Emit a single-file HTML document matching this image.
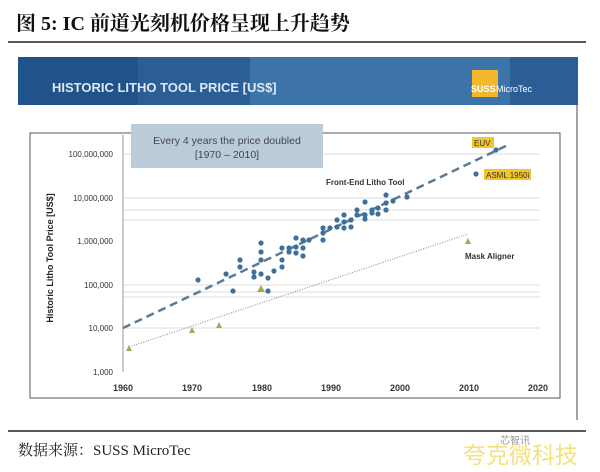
<!DOCTYPE html>
<html><head><meta charset="utf-8"><style>
body{margin:0;width:600px;height:467px;background:#fff;overflow:hidden;font-family:"Liberation Sans","Noto Sans CJK SC",sans-serif}
</style></head><body>
<svg width="600" height="467" xmlns="http://www.w3.org/2000/svg">
<text x="16" y="30" font-family="Liberation Serif,'Noto Serif CJK SC',serif" font-weight="bold" font-size="20" fill="#111">图 5: IC 前道光刻机价格呈现上升趋势</text>
<line x1="8" y1="42" x2="586" y2="42" stroke="#222" stroke-width="1.5"/>
<rect x="18" y="57" width="560" height="48" fill="#2a5e95"/>
<rect x="250" y="57" width="260" height="48" fill="#4a82b8" opacity="0.6"/>
<rect x="18" y="57" width="120" height="48" fill="#1c4f86" opacity="0.7"/>
<text x="52" y="92" font-size="13" font-weight="bold" fill="#dfe8f2">HISTORIC LITHO TOOL PRICE [US$]</text>
<rect x="472" y="70" width="26" height="27" fill="#f2b72b"/>
<text x="471" y="92" font-size="9" font-weight="bold" fill="#fff">SUSS</text><text x="496" y="92" font-size="9" fill="#fff">MicroTec</text>
<line x1="577" y1="105" x2="577" y2="420" stroke="#444" stroke-width="1"/>
<rect x="30" y="133" width="530" height="265" fill="#fff" stroke="#555" stroke-width="1"/>
<g stroke="#ddd" stroke-width="1">
<line x1="123" y1="154" x2="540" y2="154"/><line x1="123" y1="198" x2="540" y2="198"/><line x1="123" y1="210" x2="540" y2="210"/><line x1="123" y1="220" x2="540" y2="220"/>
<line x1="123" y1="285" x2="540" y2="285"/><line x1="123" y1="292" x2="540" y2="292"/><line x1="123" y1="297" x2="540" y2="297"/><line x1="123" y1="328" x2="540" y2="328"/></g>
<line x1="123" y1="135" x2="123" y2="372" stroke="#999"/>
<g font-size="8" fill="#333" text-anchor="end">
<text x="113" y="157">100,000,000</text><text x="113" y="201">10,000,000</text><text x="113" y="244">1,000,000</text><text x="113" y="288">100,000</text><text x="113" y="331">10,000</text><text x="113" y="375">1,000</text></g>
<g font-size="9" font-weight="bold" fill="#333" text-anchor="middle">
<text x="123" y="391">1960</text><text x="192" y="391">1970</text><text x="262" y="391">1980</text><text x="331" y="391">1990</text><text x="400" y="391">2000</text><text x="469" y="391">2010</text><text x="538" y="391">2020</text></g>
<text transform="translate(53,258) rotate(-90)" font-size="9" font-weight="bold" fill="#222" text-anchor="middle">Historic Litho Tool Price [US$]</text>
<rect x="131" y="124" width="192" height="44" fill="#bccbda"/>
<text x="227" y="144" font-size="10.5" fill="#445" text-anchor="middle">Every 4 years the price doubled</text>
<text x="227" y="158" font-size="10.5" fill="#445" text-anchor="middle">[1970 – 2010]</text>
<line x1="123" y1="328" x2="508" y2="145" stroke="#5a7a96" stroke-width="2.5" stroke-dasharray="8,5"/>
<line x1="129" y1="347" x2="468" y2="234" stroke="#888" stroke-width="1" stroke-dasharray="1,1.5"/>
<text x="326" y="185" font-size="8" font-weight="bold" fill="#333">Front-End Litho Tool</text>
<text x="465" y="259" font-size="8" font-weight="bold" fill="#333">Mask Aligner</text>
<rect x="472" y="137" width="22" height="11" fill="#f3c52c"/><text x="474" y="146" font-size="8" fill="#333">EUV</text>
<rect x="484" y="169" width="47" height="11" fill="#f3c52c"/><text x="486" y="178" font-size="8" fill="#333">ASML 1950i</text>
<g fill="#3f6f9c">
<circle cx="198" cy="280" r="2.6"/><circle cx="226" cy="274" r="2.6"/><circle cx="233" cy="291" r="2.6"/><circle cx="240" cy="260" r="2.6"/><circle cx="240" cy="267" r="2.6"/><circle cx="254" cy="272" r="2.6"/><circle cx="254" cy="277" r="2.6"/><circle cx="261" cy="243" r="2.6"/><circle cx="261" cy="252" r="2.6"/><circle cx="261" cy="260" r="2.6"/><circle cx="261" cy="274" r="2.6"/><circle cx="268" cy="278" r="2.6"/><circle cx="268" cy="291" r="2.6"/><circle cx="274" cy="271" r="2.6"/><circle cx="282" cy="260" r="2.6"/><circle cx="282" cy="267" r="2.6"/><circle cx="282" cy="248" r="2.6"/><circle cx="289" cy="248" r="2.6"/><circle cx="289" cy="252" r="2.6"/><circle cx="296" cy="238" r="2.6"/><circle cx="296" cy="247" r="2.6"/><circle cx="296" cy="253" r="2.6"/><circle cx="303" cy="240" r="2.6"/><circle cx="303" cy="248" r="2.6"/><circle cx="303" cy="256" r="2.6"/><circle cx="309" cy="240" r="2.6"/><circle cx="323" cy="228" r="2.6"/><circle cx="323" cy="233" r="2.6"/><circle cx="323" cy="240" r="2.6"/><circle cx="330" cy="228" r="2.6"/><circle cx="337" cy="220" r="2.6"/><circle cx="337" cy="227" r="2.6"/><circle cx="344" cy="215" r="2.6"/><circle cx="344" cy="222" r="2.6"/><circle cx="344" cy="228" r="2.6"/><circle cx="351" cy="220" r="2.6"/><circle cx="351" cy="227" r="2.6"/><circle cx="357" cy="210" r="2.6"/><circle cx="357" cy="215" r="2.6"/><circle cx="365" cy="202" r="2.6"/><circle cx="365" cy="215" r="2.6"/><circle cx="365" cy="219" r="2.6"/><circle cx="372" cy="210" r="2.6"/><circle cx="372" cy="213" r="2.6"/><circle cx="378" cy="208" r="2.6"/><circle cx="378" cy="214" r="2.6"/><circle cx="386" cy="195" r="2.6"/><circle cx="386" cy="203" r="2.6"/><circle cx="386" cy="210" r="2.6"/><circle cx="393" cy="201" r="2.6"/><circle cx="407" cy="197" r="2.6"/><circle cx="476" cy="174" r="2.6"/><circle cx="496" cy="150" r="2.6"/>
</g>
<g fill="#93b05a">
<polygon points="129,345 132,351 126,351"/><polygon points="192,327 195,333 189,333"/><polygon points="219,322 222,328 216,328"/><polygon points="261,285 265,292 257,292"/><polygon points="468,238 471,244 465,244"/></g>
<line x1="8" y1="431" x2="586" y2="431" stroke="#222" stroke-width="1.5"/>
<text x="18" y="455" font-family="Liberation Serif,'Noto Serif CJK SC',serif" font-size="15" fill="#222">数据来源：SUSS MicroTec</text>
<text x="500" y="444" font-size="10" fill="#999">芯智讯</text>
<text x="463" y="463" font-size="23" fill="#f5e27a">夸克微科技</text>
</svg>
</body></html>
